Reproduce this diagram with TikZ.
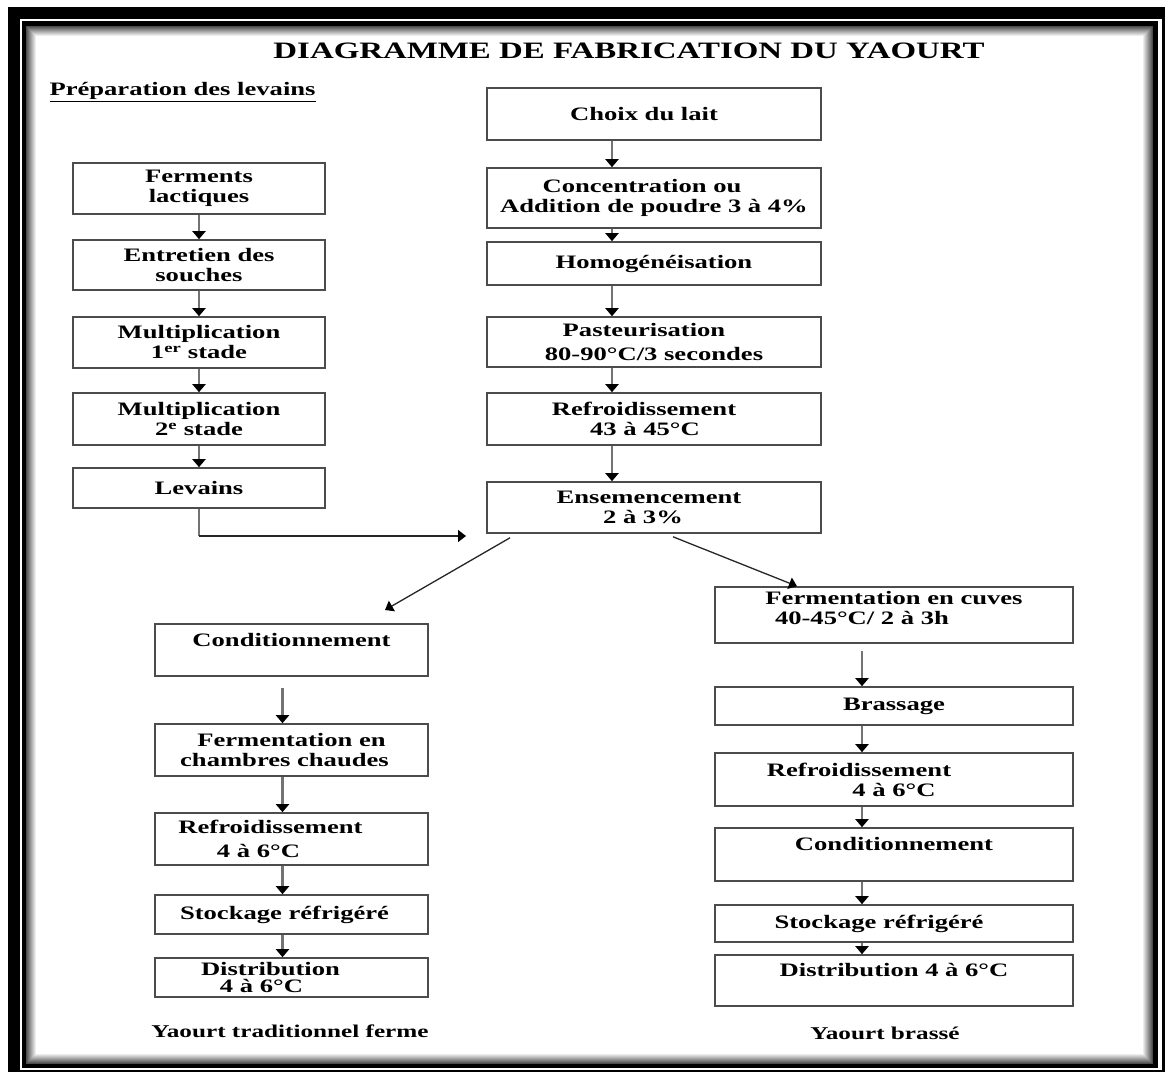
\documentclass[tikz,border=0pt]{standalone}
\usepackage{fontspec}
\setmainfont{Liberation Serif}[FakeStretch=1.4]
\usetikzlibrary{arrows.meta}

\tikzset{
  box/.style={draw=black!70, line width=1.6pt, fill=white, align=center, inner sep=0pt,
    font=\bfseries\fontsize{19}{20}\selectfont},
  upper/.style={text depth=#1},
  flow/.style={draw=black!55, line width=2.2pt, -{Triangle[width=13pt,length=8pt,color=black]}},
  link/.style={draw=black!85, line width=1.3pt, -{Triangle[width=12pt,length=8pt,color=black]}},
  caption/.style={font=\bfseries\fontsize{18}{20}\selectfont}
}

\begin{document}
\begin{tikzpicture}[x=1pt,y=-1pt]
    \useasboundingbox (0,0) rectangle (1167,1075);
    \fill[black] (8,7) rectangle (1165,1072);
    \fill[white] (20,19) rectangle (1162,1070);
    \fill[black] (22,21) rectangle (1158,1068);
    \fill[white] (26,26) rectangle (1153,1064);
    \foreach \i in {0,...,9}{
      \pgfmathtruncatemacro{\g}{70-7*\i}
      \draw[black!\g, line width=1pt] (26.5+\i,26.5+\i) rectangle (1152.5-\i,1063.5-\i);
    }

    \node (title) at (629,51) {\bfseries\fontsize{23.5}{24}\selectfont DIAGRAMME DE FABRICATION DU YAOURT};
    \node[anchor=west, font=\bfseries\fontsize{19}{20}\selectfont] (prep) at (46,92) {\underline{Préparation des levains}};

    \node[box, minimum width=252, minimum height=51] (ferm) at (199,188.5) {Ferments\\lactiques};
    \node[box, minimum width=252, minimum height=50] (entr) at (199,265) {Entretien des\\souches};
    \node[box, minimum width=252, minimum height=51] (mult1) at (199,342.5) {Multiplication\\1\textsuperscript{er} stade};
    \node[box, minimum width=252, minimum height=52] (mult2) at (199,419) {Multiplication\\2\textsuperscript{e} stade};
    \node[box, minimum width=252, minimum height=40] (lev) at (199,488) {Levains};

    \draw[flow] (ferm) -- (entr);
    \draw[flow] (entr) -- (mult1);
    \draw[flow] (mult1) -- (mult2);
    \draw[flow] (mult2) -- (lev);

    \node[box, minimum width=334, minimum height=52] (choix) at (654,114) {Choix du lait\hspace*{20pt}};
    \node[box, minimum width=334, minimum height=60] (conc) at (654,198) {Concentration ou\hspace*{24pt}\\Addition de poudre 3 à 4\%};
    \node[box, minimum width=334, minimum height=43] (homo) at (654,263.5) {Homogénéisation};
    \node[box, minimum width=334, minimum height=50] (past) at (654,342) {Pasteurisation\hspace*{20pt}\\[4pt]80-90°C/3 secondes};
    \node[box, minimum width=334, minimum height=52] (refr) at (654,419) {Refroidissement\hspace*{20pt}\\43 à 45°C\hspace*{18pt}};
    \node[box, minimum width=334, minimum height=51] (ense) at (654,507.5) {Ensemencement\hspace*{10pt}\\2 à 3\%\hspace*{22pt}};

    \draw[flow] ([xshift=-42pt]choix.south) -- ([xshift=-42pt]conc.north);
    \draw[flow] ([xshift=-42pt]conc.south) -- ([xshift=-42pt]homo.north);
    \draw[flow] ([xshift=-42pt]homo.south) -- ([xshift=-42pt]past.north);
    \draw[flow] ([xshift=-42pt]past.south) -- ([xshift=-42pt]refr.north);
    \draw[flow] ([xshift=-42pt]refr.south) -- ([xshift=-42pt]ense.north);

    \coordinate (join) at (466,536);
    \draw[draw=black!55, line width=2.2pt] (lev.south) -- (lev.south |- join);
    \draw[link] (lev.south |- join) -- (join);

    \node[box, minimum width=273, minimum height=52, upper=20pt] (cond1) at (291.5,650) {Conditionnement};
    \node[box, minimum width=273, minimum height=52] (fch) at (291.5,750) {Fermentation en\\chambres chaudes\hspace*{14pt}};
    \node[box, minimum width=273, minimum height=52] (ref1) at (291.5,839) {Refroidissement\hspace*{42pt}\\[4pt]4 à 6°C\hspace*{66pt}};
    \node[box, minimum width=273, minimum height=39] (stock1) at (291.5,914.5) {Stockage réfrigéré\hspace*{14pt}};
    \node[box, minimum width=273, minimum height=39] (dist1) at (291.5,977.5) {Distribution\hspace*{42pt}\\[-3pt]4 à 6°C\hspace*{60pt}};
    \node[caption] (trad) at (290,1031) {Yaourt traditionnel ferme};

    \coordinate (tl) at (385,610);
    \draw[link] ([xshift=-144pt,yshift=-4pt]ense.south) -- (tl);

    \draw[flow, shorten <=11pt] ([xshift=-9pt]cond1.south) -- ([xshift=-9pt]fch.north);
    \draw[flow] ([xshift=-9pt]fch.south) -- ([xshift=-9pt]ref1.north);
    \draw[flow] ([xshift=-9pt]ref1.south) -- ([xshift=-9pt]stock1.north);
    \draw[flow] ([xshift=-9pt]stock1.south) -- ([xshift=-9pt]dist1.north);

    \node[box, minimum width=358, minimum height=56, upper=14pt] (cuv) at (894,615) {Fermentation en cuves\\40-45°C/ 2 à 3h\hspace*{64pt}};
    \node[box, minimum width=358, minimum height=38] (bras) at (894,706) {Brassage};
    \node[box, minimum width=358, minimum height=53] (ref2) at (894,779.5) {Refroidissement\hspace*{70pt}\\4 à 6°C};
    \node[box, minimum width=358, minimum height=53, upper=22pt] (cond2) at (894,854.5) {Conditionnement};
    \node[box, minimum width=358, minimum height=37] (stock2) at (894,923.5) {Stockage réfrigéré\hspace*{30pt}};
    \node[box, minimum width=358, minimum height=51, upper=22pt] (dist2) at (894,980.5) {Distribution 4 à 6°C};
    \node[caption] (brass) at (885,1033) {Yaourt brassé};

    \draw[link] ([xshift=19pt,yshift=-3pt]ense.south) -- ([xshift=-97pt]cuv.north);

    \draw[flow, shorten <=7pt] ([xshift=-32pt]cuv.south) -- ([xshift=-32pt]bras.north);
    \draw[flow] ([xshift=-32pt]bras.south) -- ([xshift=-32pt]ref2.north);
    \draw[flow] ([xshift=-32pt]ref2.south) -- ([xshift=-32pt]cond2.north);
    \draw[flow] ([xshift=-32pt]cond2.south) -- ([xshift=-32pt]stock2.north);
    \draw[flow] ([xshift=-32pt]stock2.south) -- ([xshift=-32pt]dist2.north);
\end{tikzpicture}
\end{document}
